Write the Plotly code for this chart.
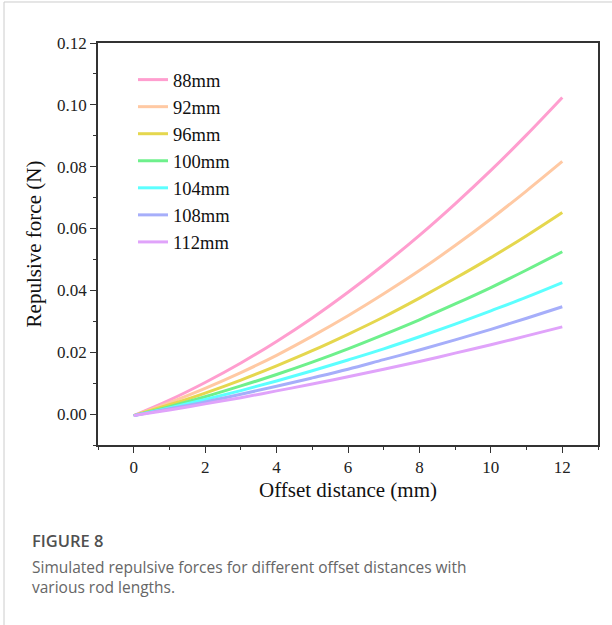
import plotly.graph_objects as go

offset_mm = [0, 1, 2, 3, 4, 5, 6, 7, 8, 9, 10, 11, 12]
rod_labels = ["88mm", "92mm", "96mm", "100mm", "104mm", "108mm", "112mm"]
force_88 = [-0.0005, 0.0045, 0.0102, 0.0165, 0.0235, 0.0311, 0.0394, 0.0483, 0.0578, 0.0680, 0.0788, 0.0903, 0.1024]
force_92 = [-0.0005, 0.0037, 0.0083, 0.0134, 0.0190, 0.0252, 0.0318, 0.0389, 0.0464, 0.0545, 0.0631, 0.0722, 0.0817]
force_96 = [-0.0005, 0.0030, 0.0068, 0.0110, 0.0156, 0.0205, 0.0258, 0.0314, 0.0375, 0.0439, 0.0506, 0.0577, 0.0652]
force_100 = [-0.0005, 0.0024, 0.0056, 0.0091, 0.0128, 0.0168, 0.0211, 0.0257, 0.0305, 0.0356, 0.0409, 0.0466, 0.0525]
force_104 = [-0.0005, 0.0020, 0.0047, 0.0076, 0.0107, 0.0140, 0.0175, 0.0211, 0.0250, 0.0291, 0.0334, 0.0378, 0.0425]
force_108 = [-0.0005, 0.0017, 0.0039, 0.0064, 0.0090, 0.0117, 0.0145, 0.0176, 0.0207, 0.0240, 0.0274, 0.0310, 0.0347]
force_112 = [-0.0005, 0.0013, 0.0033, 0.0053, 0.0075, 0.0097, 0.0121, 0.0145, 0.0170, 0.0197, 0.0224, 0.0253, 0.0282]
series = [force_88, force_92, force_96, force_100, force_104, force_108, force_112]
colors = ["#FF9ECF", "#FFC9A3", "#E5D74E", "#6EF08C", "#5CFFFF", "#A6AEFA", "#E0A3FA"]

x_ticks = [0, 2, 4, 6, 8, 10, 12]
y_ticks = [0.00, 0.02, 0.04, 0.06, 0.08, 0.10, 0.12]

fig = go.Figure()
for name, vals, col in zip(rod_labels, series, colors):
    fig.add_trace(go.Scatter(x=offset_mm, y=vals, mode="lines", name=name,
                             line=dict(color=col, width=3, shape="spline")))

serif = "Liberation Serif, Times New Roman, serif"
axis_common = dict(showline=True, linecolor="#333333", linewidth=1.6, mirror=True,
                   showgrid=False, zeroline=False, ticks="outside", ticklen=6,
                   tickwidth=1.4, tickcolor="#333333",
                   tickfont=dict(family=serif, size=17, color="#222222"))

fig.update_xaxes(range=[-1, 13], tickvals=x_ticks, ticktext=[str(v) for v in x_ticks],
                 minor=dict(dtick=1, tick0=0, ticklen=3.5, tickwidth=1.4, tickcolor="#333333", ticks="outside"),
                 title=dict(text="Offset distance (mm)", font=dict(family=serif, size=21, color="#111111"), standoff=6),
                 **axis_common)
fig.update_yaxes(range=[-0.01, 0.12], tickvals=y_ticks, ticktext=[f"{v:.2f}" for v in y_ticks],
                 minor=dict(dtick=0.01, tick0=0, ticklen=3.5, tickwidth=1.4, tickcolor="#333333", ticks="outside"),
                 title=dict(text="Repulsive force (N)", font=dict(family=serif, size=21, color="#111111"), standoff=10),
                 **axis_common)

fig.update_layout(
    width=612, height=625,
    margin=dict(l=98, r=14, t=43, b=180),
    paper_bgcolor="white", plot_bgcolor="white",
    legend=dict(x=0.07, y=0.955, xanchor="left", yanchor="top", bgcolor="rgba(0,0,0,0)",
                font=dict(family=serif, size=18.5, color="#111111"), tracegroupgap=0, itemwidth=30),
    showlegend=True,
)

# caption
fig.add_annotation(xref="paper", yref="paper", x=-0.136, y=-0.237, xanchor="left", yanchor="middle",
                   text="FIGURE 8", showarrow=False,
                   font=dict(family="Open Sans, sans-serif", size=16.5, color="#505050", weight=600))
fig.add_annotation(xref="paper", yref="paper", x=-0.136, y=-0.328, xanchor="left", yanchor="middle",
                   text="Simulated repulsive forces for different offset distances with<br>various rod lengths.",
                   showarrow=False, align="left",
                   font=dict(family="Open Sans, sans-serif", size=15.5, color="#666666"))

# outer frame lines (left and top)
fig.add_shape(type="line", xref="paper", yref="paper", x0=-0.188, x1=-0.188, y0=1.102, y1=-0.448,
              line=dict(color="#cccccc", width=1))
fig.add_shape(type="line", xref="paper", yref="paper", x0=-0.188, x1=1.03, y0=1.102, y1=1.102,
              line=dict(color="#cccccc", width=1))

fig.write_html("out.html", post_script="document.body.style.margin='0';",
               config={"displayModeBar": False})
